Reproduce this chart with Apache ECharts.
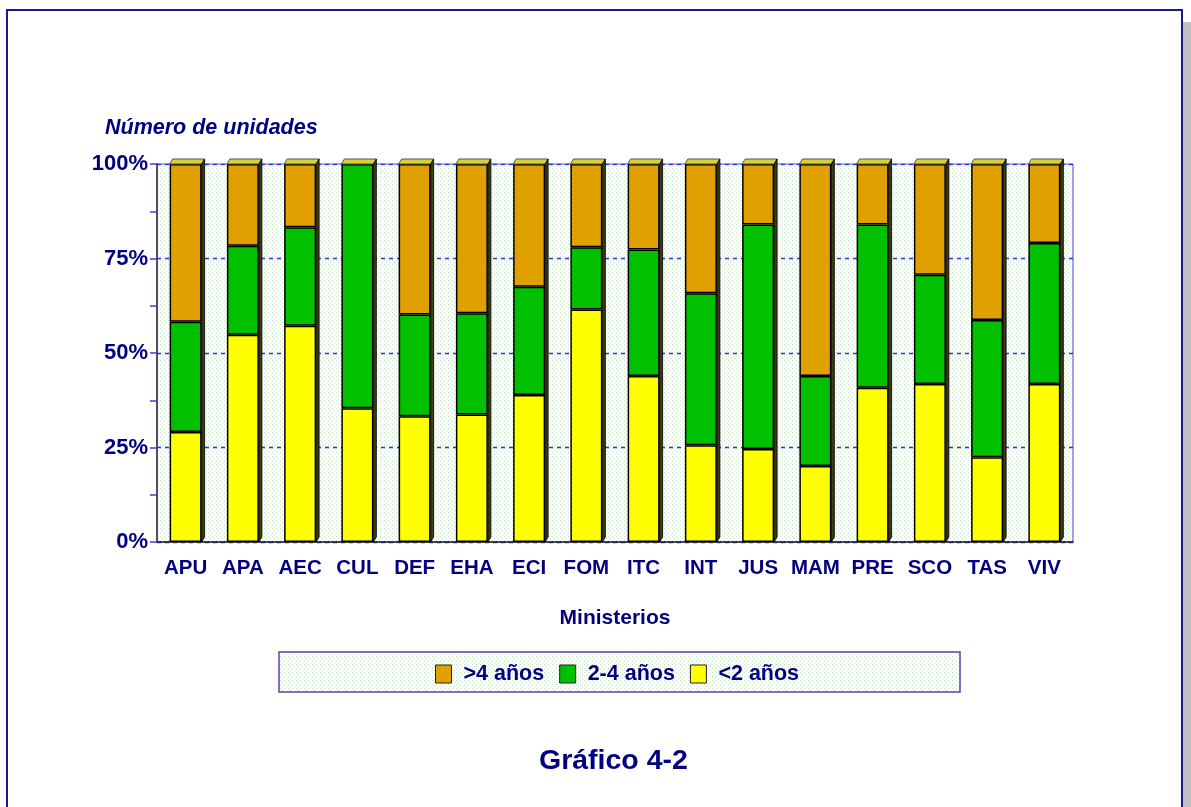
<!DOCTYPE html>
<html><head><meta charset="utf-8">
<script src="https://cdn.jsdelivr.net/npm/echarts@6/dist/echarts.min.js"></script>
<style>html,body{margin:0;padding:0;background:#fff}#c{width:1191px;height:807px}</style>
</head><body><div id="c"></div>
<script>
const categories = ['APU','APA','AEC','CUL','DEF','EHA','ECI','FOM','ITC','INT','JUS','MAM','PRE','SCO','TAS','VIV'];
const menos2 = [29.1,54.8,57.2,35.4,33.3,33.7,38.9,61.5,43.9,25.6,24.6,20.1,40.8,41.8,22.4,41.8];
const de2a4  = [29.2,23.6,26.1,64.6,26.9,26.8,28.6,16.5,33.5,40.2,59.4,23.8,43.2,28.9,36.3,37.3];
const mas4   = [41.7,21.6,16.7,0.0,39.8,39.5,32.5,22.0,22.6,34.2,16.0,56.1,16.0,29.3,41.3,20.9];
const yTicks = [0,25,50,75,100];
const seriesNames = ['>4 años','2-4 años','<2 años'];

const NAVY = '#000080';
const FONT = "'Liberation Sans', Arial, sans-serif";

function dotPattern(){
  const c = document.createElement('canvas');
  c.width = 4; c.height = 4;
  const g = c.getContext('2d');
  g.fillStyle = '#ffffff'; g.fillRect(0,0,4,4);
  g.fillStyle = '#c8dcc8'; g.fillRect(0,0,1,1); g.fillRect(2,2,1,1);
  return {image: c, repeat: 'repeat'};
}
const pat = dotPattern();
const totals = categories.map((c,i)=>menos2[i]+de2a4[i]+mas4[i]);

const chart = echarts.init(document.getElementById('c'), null, {renderer:'canvas'});
const barStyle = (col)=>({color: col, borderColor:'#000', borderWidth:1.5});
chart.setOption({
  animation:false,
  backgroundColor:'#fff',
  title:[
    {text:'Número de unidades', left:100, top:112, textStyle:{color:NAVY, fontFamily:FONT, fontSize:21.5, fontWeight:'bold', fontStyle:'italic'}},
    {text:'Gráfico 4-2', left:534, top:742, textStyle:{color:NAVY, fontFamily:FONT, fontSize:28.5, fontWeight:'bold'}}
  ],
  graphic:[
    {type:'rect', z:-10, shape:{x:1182,y:22,width:9,height:800}, style:{fill:'#c0c0c0'}},
    {type:'rect', z:-9, shape:{x:7,y:10,width:1175,height:810}, style:{fill:'#fff', stroke:'#1a1a8c', lineWidth:2}},
    {type:'rect', z:-5, shape:{x:279,y:652,width:681,height:40}, style:{fill:pat, stroke:'#6040a0', lineWidth:1.5}}
  ],
  legend:{
    data:seriesNames, left:430, top:658, itemWidth:16, itemHeight:18, itemGap:15,
    icon:'rect', selectedMode:false,
    textStyle:{color:NAVY, fontFamily:FONT, fontSize:21.5, fontWeight:'bold', padding:[0,0,0,7]},
    itemStyle:{borderColor:'#222', borderWidth:1}
  },
  grid:{left:157, right:118, top:164, bottom:265, show:true, backgroundColor:pat, borderColor:'#4848d8', borderWidth:1},
  xAxis:{
    type:'category', data:categories,
    name:'Ministerios', nameLocation:'middle', nameGap:66,
    nameTextStyle:{color:NAVY, fontFamily:FONT, fontSize:21, fontWeight:'bold'},
    axisLine:{lineStyle:{color:'#222', width:1.5}},
    axisTick:{alignWithLabel:true, length:10, lineStyle:{color:'#4040e0', width:1.5}},
    axisLabel:{interval:0, color:NAVY, fontFamily:FONT, fontSize:20.5, fontWeight:'bold', margin:16}
  },
  yAxis:{
    type:'value', min:yTicks[0], max:yTicks[yTicks.length-1], interval:25,
    axisLine:{show:true, lineStyle:{color:'#333', width:1.5}},
    axisTick:{show:true, length:7, lineStyle:{color:'#4040d0', width:1.5}},
    minorTick:{show:true, splitNumber:2, length:7, lineStyle:{color:'#4040d0', width:1.5}},
    axisLabel:{color:NAVY, fontFamily:FONT, fontSize:22, fontWeight:'bold', margin:9, formatter:'{value}%'},
    splitLine:{show:true, lineStyle:{color:'#3030d8', type:[4,4], width:1.3}}
  },
  series:[
    {name:'<2 años', type:'bar', stack:'t', data:menos2, barWidth:32, itemStyle:barStyle('#ffff00')},
    {name:'2-4 años', type:'bar', stack:'t', data:de2a4, barWidth:32, itemStyle:barStyle('#00c000')},
    {name:'>4 años', type:'bar', stack:'t', data:mas4, barWidth:32, itemStyle:barStyle('#e0a000')},
    {name:'tapa', type:'custom', z:5, data:categories.map((c,i)=>[i,totals[i]]),
     renderItem:function(params, api){
       const p = api.coord([api.value(0), api.value(1)]);
       const p0 = api.coord([api.value(0), 0]);
       const hw = 16;
       return {type:'group', children:[
         {type:'polygon', shape:{points:[[p[0]-hw,p[1]],[p[0]-hw+3,p[1]-5],[p[0]+hw+3,p[1]-5],[p[0]+hw,p[1]]]},
          style:{fill:'#d8d038', stroke:'#555', lineWidth:1}},
         {type:'polygon', shape:{points:[[p[0]+hw,p[1]],[p[0]+hw+3,p[1]-5],[p[0]+hw+3,p0[1]-5],[p[0]+hw,p0[1]]]},
          style:{fill:'#3a3a10', stroke:'#000', lineWidth:0.8}}
       ]};
     }}
  ]
});
</script></body></html>
